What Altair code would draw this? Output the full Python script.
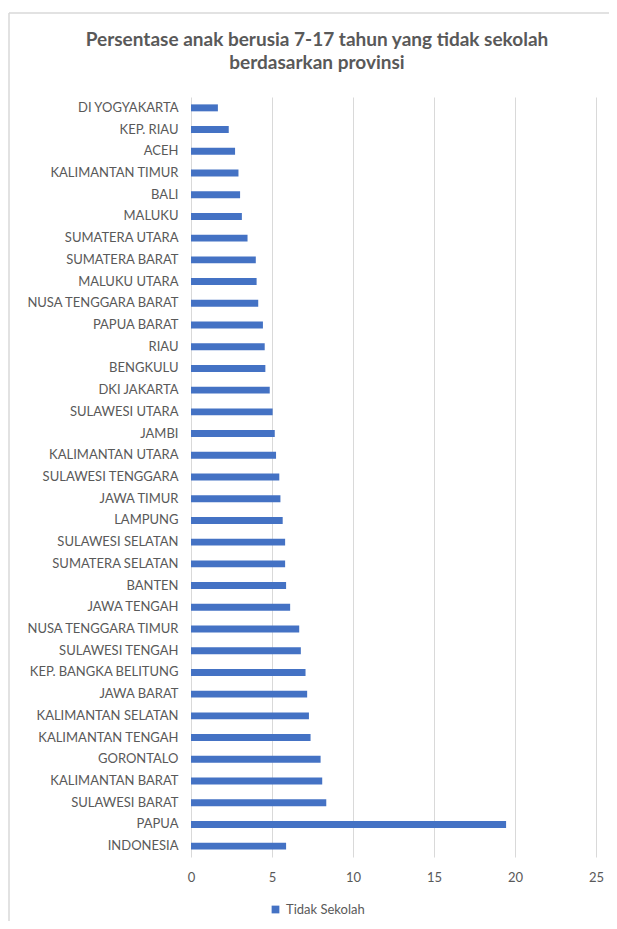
import altair as alt
import pandas as pd

provinces = [
    "DI YOGYAKARTA", "KEP. RIAU", "ACEH", "KALIMANTAN TIMUR", "BALI", "MALUKU",
    "SUMATERA UTARA", "SUMATERA BARAT", "MALUKU UTARA", "NUSA TENGGARA BARAT",
    "PAPUA BARAT", "RIAU", "BENGKULU", "DKI JAKARTA", "SULAWESI UTARA", "JAMBI",
    "KALIMANTAN UTARA", "SULAWESI TENGGARA", "JAWA TIMUR", "LAMPUNG",
    "SULAWESI SELATAN", "SUMATERA SELATAN", "BANTEN", "JAWA TENGAH",
    "NUSA TENGGARA TIMUR", "SULAWESI TENGAH", "KEP. BANGKA BELITUNG",
    "JAWA BARAT", "KALIMANTAN SELATAN", "KALIMANTAN TENGAH", "GORONTALO",
    "KALIMANTAN BARAT", "SULAWESI BARAT", "PAPUA", "INDONESIA",
]
values = [
    1.66, 2.33, 2.72, 2.93, 3.03, 3.14,
    3.49, 4.00, 4.05, 4.15,
    4.44, 4.55, 4.59, 4.86, 5.04, 5.17,
    5.25, 5.45, 5.52, 5.66,
    5.81, 5.81, 5.87, 6.12,
    6.68, 6.78, 7.07,
    7.17, 7.28, 7.38, 8.00,
    8.10, 8.35, 19.45, 5.87,
]
series_name = "Tidak Sekolah"
title_line1 = "Persentase anak berusia 7-17 tahun yang tidak sekolah"
title_line2 = "berdasarkan provinsi"

df = pd.DataFrame({"Provinsi": provinces, "Nilai": values, "Seri": series_name})

FONT = "Lato"
GREY = "#595959"
FRAME = "#d9d9d9"

bars = alt.Chart(df).mark_bar(color="#4472C4").encode(
    y=alt.Y("Provinsi:N", sort=provinces, title=None,
            scale=alt.Scale(paddingInner=0.68, paddingOuter=0.34),
            axis=alt.Axis(domain=False, ticks=False, grid=False, labelPadding=13,
                          labelFontSize=13, labelColor=GREY, labelFont=FONT,
                          labelLimit=300)),
    x=alt.X("Nilai:Q", title=None,
            scale=alt.Scale(domain=[0, 25], nice=False),
            axis=alt.Axis(values=[0, 5, 10, 15, 20, 25], domain=False, ticks=False,
                          grid=True, gridColor="#d9d9d9", labelPadding=14,
                          labelFlush=False,
                          labelFontSize=13, labelColor=GREY, labelFont=FONT)),
    color=alt.Color("Seri:N", scale=alt.Scale(range=["#4472C4"]), title=None,
                    legend=alt.Legend(orient="none", legendX=78, legendY=806,
                                      symbolType="square", symbolSize=60,
                                      labelFontSize=13, labelColor=GREY,
                                      labelFont=FONT, symbolStrokeWidth=0)),
)

one = pd.DataFrame({"a": [0]})
frame_top = alt.Chart(one).mark_rule(color=FRAME, strokeWidth=1.5).encode(
    x=alt.value(-182), x2=alt.value(430), y=alt.value(-84))
frame_left = alt.Chart(one).mark_rule(color=FRAME, strokeWidth=1.5).encode(
    x=alt.value(-182), y=alt.value(-84), y2=alt.value(830))

title_df = pd.DataFrame({"t": [title_line1]})
title2_df = pd.DataFrame({"t": [title_line2]})
t1 = alt.Chart(title_df).mark_text(
    font=FONT, fontSize=19, fontWeight="bold", color=GREY,
    align="center", baseline="middle"
).encode(text="t:N", x=alt.value(126), y=alt.value(-57))
t2 = alt.Chart(title2_df).mark_text(
    font=FONT, fontSize=19, fontWeight="bold", color=GREY,
    align="center", baseline="middle"
).encode(text="t:N", x=alt.value(126), y=alt.value(-34))

chart = alt.layer(frame_top, frame_left, bars, t1, t2).properties(
    width=405, height=760,
    autosize=alt.AutoSizeParams(type="none"),
    padding={"left": 183, "top": 89, "right": 13, "bottom": 64},
).configure_view(stroke="transparent", strokeWidth=0, strokeOpacity=0)

chart.save("out.html", embed_options={"renderer": "svg", "actions": False})
